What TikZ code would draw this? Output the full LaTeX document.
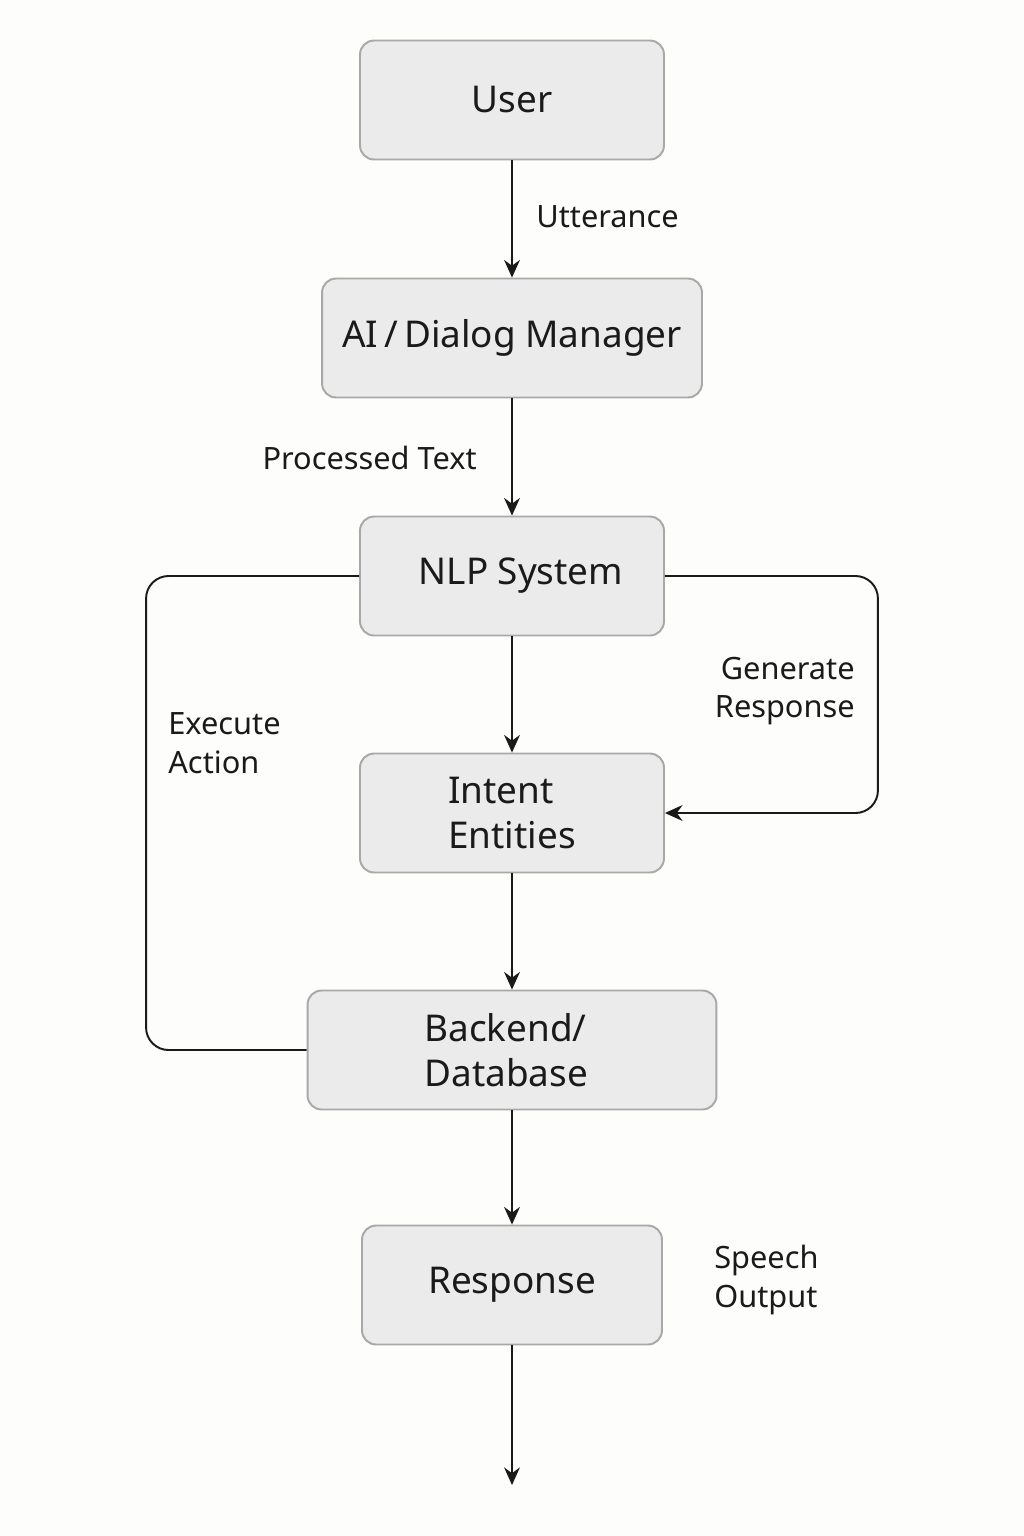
\documentclass[tikz,border=0pt]{standalone}
\usepackage{fontspec}
\setmainfont{Noto Sans}
\usetikzlibrary{arrows.meta}
\definecolor{boxfill}{HTML}{EBEBEB}
\definecolor{boxline}{HTML}{A8A8A8}
\definecolor{paper}{HTML}{FDFDFB}
\definecolor{ink}{HTML}{1A1A1A}
\begin{document}
\begin{tikzpicture}[x=0.02cm,y=-0.02cm,
    box/.style={draw=boxline, line width=1.1pt, fill=boxfill, rounded corners=8pt,
                minimum height=2.38cm, inner sep=0pt, text=ink, font=\fontsize{21}{26}\selectfont},
    lbl/.style={text=ink, inner sep=0pt, font=\fontsize{17.5}{22}\selectfont},
    arr/.style={draw=ink, line width=1.1pt, -{Stealth[length=10pt,width=9pt]}},
    loop/.style={draw=ink, line width=1.1pt, rounded corners=0.45cm}]
  \useasboundingbox[fill=paper] (0,0) rectangle (1024,1536);

  \node[box, minimum width=6.08cm] (U) at (512,100) {User};
  \node[box, minimum width=7.6cm] (D) at (512,338) {AI\,/\,Dialog Manager};
  \node[box, minimum width=6.08cm] (N) at (512,576) {\hspace{0.36cm}NLP System};
  \node[box, minimum width=6.08cm, align=left] (I) at (512,813) {Intent\\Entities};
  \node[box, minimum width=8.18cm, align=left] (B) at (512,1050) {Backend/\hspace*{0.26cm}\\Database};
  \node[box, minimum width=6cm] (R) at (512,1285) {Response};
  \coordinate (E) at (512,1485);

  \node[lbl, anchor=west] (Lu) at (536,217) {Utterance};
  \node[lbl, anchor=east] (Lp) at (477,458) {Processed Text};
  \node[lbl, anchor=west, align=left] (Lx) at (168,743) {Execute\\Action};
  \node[lbl, anchor=east, align=right] (Lg) at (855,691) {Generate\\Response};
  \node[lbl, anchor=west, align=left] (Ls) at (714,1280) {Speech\\Output};

  \draw[arr] (U) -- (D);
  \draw[arr] (D) -- (N);
  \draw[arr] (N) -- (I);
  \draw[arr] (I) -- (B);
  \draw[arr] (B) -- (R);
  \draw[arr] (R) -- (E);

  \draw[loop, -{Stealth[length=10pt,width=9pt]}] (N.east) -- ++(213,0) |- (I.east);
  \draw[loop] (N.west) -- ++(-213,0) |- (B.west);
\end{tikzpicture}
\end{document}
